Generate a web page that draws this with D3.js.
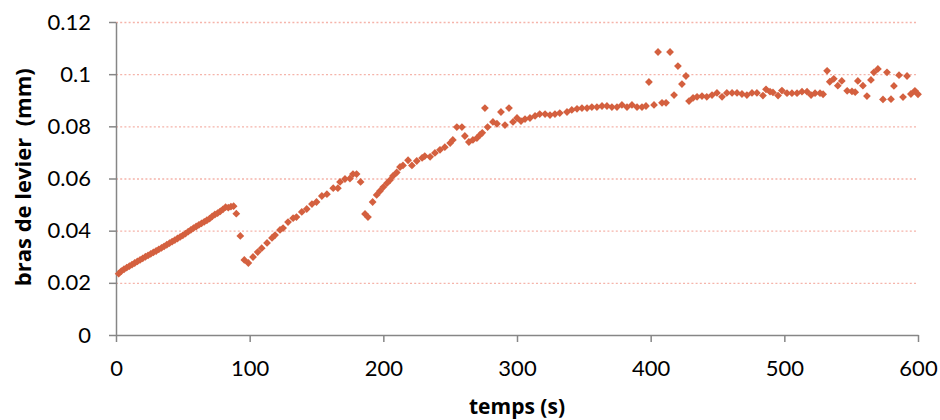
<!DOCTYPE html>
<html>
<head>
<meta charset="utf-8">
<script src="https://cdn.jsdelivr.net/npm/d3@7"></script>
<style>
  body { margin: 0; background: #fff; }
  svg { display: block; }
  .tick text { font-family: Lato, "Open Sans", sans-serif; fill: #000; }
  .axis-title { font-family: "Open Sans", Lato, sans-serif; font-weight: bold; fill: #000; }
</style>
</head>
<body>
<svg id="chart" width="940" height="420"></svg>
<script>
// temps (s)
const times = [
  2, 4, 6, 8, 10, 12, 14, 16, 18, 20, 22, 24, 26, 28, 30, 32, 34, 36, 38, 40,
  42, 44, 46, 48, 50, 52, 54, 56, 58, 60, 62, 64, 66, 68, 70, 72, 74, 76, 78, 80,
  82, 84, 86, 88, 90, 93, 96, 99,
  102.5, 106, 109, 113, 116.7, 119, 122.7, 125, 128.7, 132.5, 135, 139, 142.7, 146.6, 150,
  154, 157.8, 162.5, 166, 167.6, 171.3, 175, 177.3, 180, 183, 186.3, 188.5,
  192, 195, 197.5, 200, 202.7, 205, 207.2, 210, 212.5, 214.7, 218.5, 221.4, 225, 229, 231,
  235, 238.6, 242.4, 246, 250, 252, 255, 258.8, 261, 264, 267, 270, 272.3, 274, 276, 278,
  282, 285, 288, 291, 294, 297, 300, 303, 306, 309.7, 313.5, 317, 321, 324.7, 328.4, 332,
  337.4, 341, 344.9, 348.6, 352.4, 356, 359.8, 363.6, 367.3, 371, 374.8, 378.5, 382.3, 386,
  389.8, 393.5, 396.5, 398.7, 402.5, 405.5, 408.5, 411.5, 414.5, 417.5, 420.4, 423.4, 426.4,
  428.7, 431.7, 434.7, 438.4, 442, 445.9, 449.6, 453.4, 457, 460.9, 464.6, 468.3, 472, 475.8,
  479.5, 484, 486.3, 489.3, 491.5, 495.3, 498.2, 502, 505.7, 509.5, 513.2, 517, 520, 523,
  526.7, 529, 532, 534, 537, 540, 543, 547, 550.6, 553, 555, 558.8, 561.8, 564.8, 567, 570,
  573.8, 576.8, 579.8, 582, 585.8, 588.8, 591.8, 594.7, 597.7, 600
];

// bras de levier (mm)
const lever = [
  0.0235, 0.0245, 0.0252, 0.0258, 0.0264, 0.0270, 0.0276, 0.0282, 0.0288, 0.0294,
  0.0300, 0.0305, 0.0311, 0.0317, 0.0322, 0.0328, 0.0334, 0.0340, 0.0346, 0.0352,
  0.0358, 0.0364, 0.0370, 0.0376, 0.0382, 0.0389, 0.0396, 0.0403, 0.0410, 0.0416,
  0.0422, 0.0428, 0.0434, 0.0440, 0.0446, 0.0455, 0.0462, 0.0467, 0.0474, 0.0482,
  0.0490, 0.0488, 0.0492, 0.0494, 0.0465, 0.0380, 0.0288, 0.0276,
  0.0299, 0.0318, 0.0333, 0.0353, 0.0372, 0.0383, 0.0403, 0.0410, 0.0433, 0.0448, 0.0452,
  0.0472, 0.0483, 0.0502, 0.0510, 0.0533, 0.0540, 0.0563, 0.0563, 0.0587, 0.0598, 0.0600,
  0.0617, 0.0617, 0.0587, 0.0464, 0.0452,
  0.0510, 0.0537, 0.0552, 0.0567, 0.0582, 0.0594, 0.0610, 0.0623, 0.0644, 0.0650, 0.0670,
  0.0650, 0.0667, 0.0679, 0.0686,
  0.0683, 0.0698, 0.0710, 0.0720, 0.0736, 0.0748, 0.0797, 0.0797, 0.0763, 0.0740, 0.0748,
  0.0755, 0.0767, 0.0775, 0.0870, 0.0797,
  0.0817, 0.0810, 0.0855, 0.0805, 0.0870, 0.0817, 0.0832, 0.0820, 0.0828, 0.0832, 0.0840,
  0.0847, 0.0847, 0.0843, 0.0847, 0.0851,
  0.0855, 0.0863, 0.0867, 0.0870, 0.0870, 0.0874, 0.0874, 0.0878, 0.0878, 0.0874, 0.0874,
  0.0882, 0.0874, 0.0882,
  0.0874, 0.0874, 0.0878, 0.0970, 0.0882, 0.1085, 0.0890, 0.0890, 0.1085, 0.0920, 0.1031,
  0.0962, 0.0993,
  0.0897, 0.0909, 0.0913, 0.0916, 0.0913, 0.0920, 0.0928, 0.0913, 0.0928, 0.0928, 0.0928,
  0.0924, 0.0920, 0.0928,
  0.0928, 0.0918, 0.0942, 0.0933, 0.0930, 0.0918, 0.0937, 0.0927, 0.0927, 0.0927, 0.0933,
  0.0933, 0.0920, 0.0927,
  0.0927, 0.0923, 0.1013, 0.0971, 0.0982, 0.0956, 0.0974, 0.0936, 0.0934, 0.0931, 0.0974,
  0.0956, 0.0916, 0.0978, 0.1007, 0.1020,
  0.0903, 0.1007, 0.0904, 0.0955, 0.0996, 0.0912, 0.0993, 0.0924, 0.0936, 0.0923
];

const xTicks = [0, 100, 200, 300, 400, 500, 600];
const yTicks = [0, 0.02, 0.04, 0.06, 0.08, 0.1, 0.12];

const MARGIN = { top: 22, right: 22, bottom: 85, left: 116 };
const W = 940, H = 420;
const width = W - MARGIN.left - MARGIN.right;
const height = H - MARGIN.top - MARGIN.bottom;
const COLOUR = '#d4603f';

const data = times.map((t, i) => ({ t: t, v: lever[i] }));

const svg = d3.select('#chart');
const g = svg.append('g').attr('transform', `translate(${MARGIN.left},${MARGIN.top})`);

const scaleX = d3.scaleLinear().domain([0, 600]).range([0, width]);
const scaleY = d3.scaleLinear().domain([0, 0.12]).range([height, 0]);

// dotted gridlines
g.append('g')
  .attr('class', 'grid')
  .call(d3.axisLeft(scaleY).tickValues(yTicks.filter(d => d > 0)).tickSize(-width).tickFormat(''))
  .call(s => s.select('.domain').remove())
  .selectAll('line')
  .attr('stroke', '#f5b4aa')
  .attr('stroke-width', 1.3)
  .attr('stroke-dasharray', '2,2.2');

// axes
const axisY = d3.axisLeft(scaleY)
  .tickValues(yTicks)
  .tickSize(7)
  .tickSizeOuter(0)
  .tickPadding(18)
  .tickFormat(d3.format('~g'));

const axisX = d3.axisBottom(scaleX)
  .tickValues(xTicks)
  .tickSize(7)
  .tickSizeOuter(0)
  .tickPadding(14);

const $gx = g.append('g')
  .attr('transform', `translate(0,${height})`)
  .call(axisX);

const $gy = g.append('g').call(axisY);

[$gx, $gy].forEach(a => {
  a.select('.domain').attr('stroke', '#868686').attr('stroke-width', 1.5);
  a.selectAll('.tick line').attr('stroke', '#868686').attr('stroke-width', 1.5);
  a.selectAll('.tick text').style('font-size', '22px');
});
$gx.selectAll('.tick text').attr('dy', '0.9em');

// points (diamonds)
const r = 3.9;
g.append('g')
  .selectAll('path')
  .data(data)
  .join('path')
  .attr('d', `M0,${-r}L${r},0L0,${r}L${-r},0Z`)
  .attr('transform', d => `translate(${scaleX(d.t)},${scaleY(d.v)})`)
  .attr('fill', COLOUR);

// axis titles
svg.append('text')
  .attr('class', 'axis-title')
  .attr('x', MARGIN.left + scaleX(300))
  .attr('y', 414)
  .attr('text-anchor', 'middle')
  .style('font-size', '21px')
  .text('temps (s)');

svg.append('text')
  .attr('class', 'axis-title')
  .attr('transform', `translate(31,${MARGIN.top + scaleY(0.0605)}) rotate(-90)`)
  .attr('text-anchor', 'middle')
  .style('font-size', '22px')
  .style('white-space', 'pre')
  .attr('xml:space', 'preserve')
  .text('bras de levier  (mm)');
</script>
</body>
</html>
